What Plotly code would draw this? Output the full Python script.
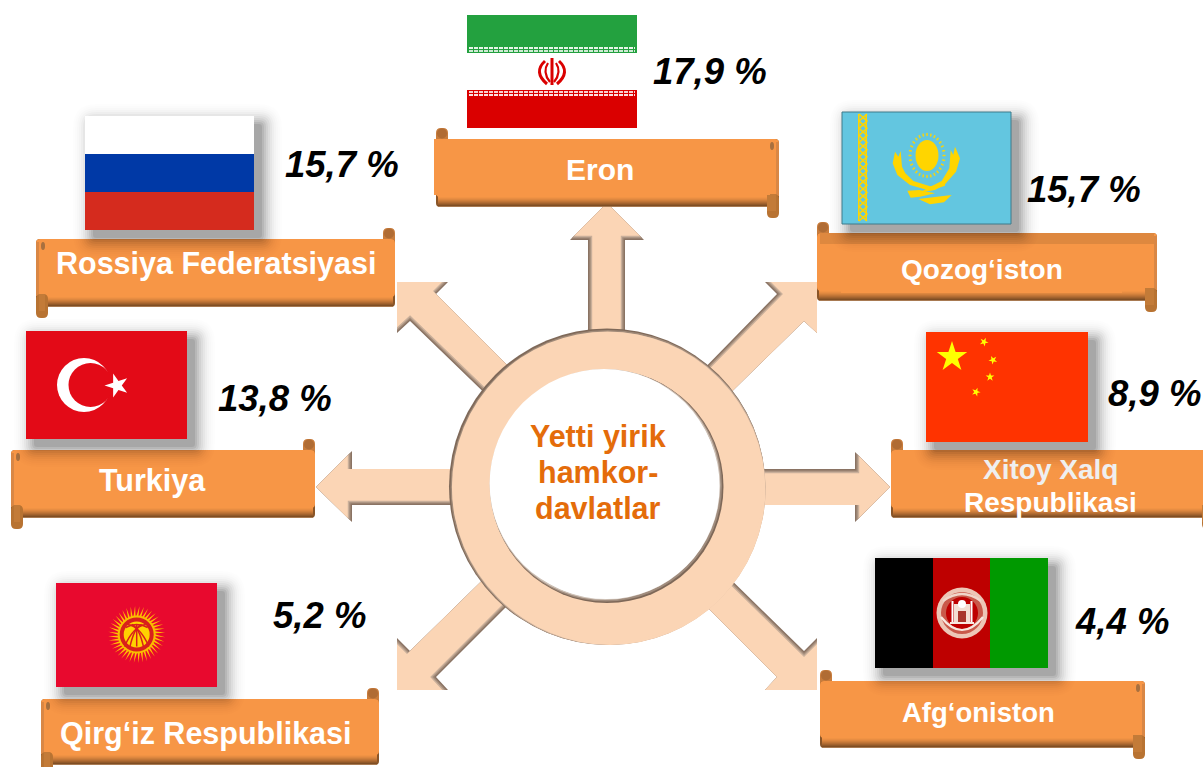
import math
import plotly.graph_objects as go

# ---- content ----
countries = ["Eron", "Rossiya Federatsiyasi", "Qozog‘iston", "Turkiya",
             ["Xitoy Xalq", "Respublikasi"], "Qirg‘iz Respublikasi", "Afg‘oniston"]
shares = [17.9, 15.7, 15.7, 13.8, 8.9, 5.2, 4.4]
centre_lines = ["Yetti yirik", "hamkor-", "davlatlar"]

# ---- layout of the diagram (pixel positions) ----
W, H = 1203, 767
share_pos = [(710, 71), (342, 164), (1084, 189), (275, 398), (1154, 393), (319, 615), (1122, 621)]
name_pos = [(600, 169), (216, 263), (982, 269), (152, 480), None, (206, 733), (978, 712)]
name_size = [30, 30.5, 28, 30.5, 28, 30.5, 27.5]
ORANGE = "#F79646"
PEACH = "#FBD5B5"
shapes = []


def add(kind, **kw):
    shapes.append(dict(type=kind, xref="x", yref="y", layer="above", **kw))


def poly(pts, fill, line=None, width=0):
    d = "M " + " L ".join(f"{x:.2f},{y:.2f}" for x, y in pts) + " Z"
    add("path", path=d, fillcolor=fill, line=dict(color=line or "rgba(0,0,0,0)", width=width))


def curve(d, color, width, fill="rgba(0,0,0,0)"):
    add("path", path=d, fillcolor=fill, line=dict(color=color, width=width))


def rect(x0, y0, x1, y1, fill):
    add("rect", x0=x0, y0=y0, x1=x1, y1=y1, fillcolor=fill, line=dict(width=0))


def rrect(x0, y0, x1, y1, r, fill):
    d = (f"M {x0+r},{y0} L {x1-r},{y0} Q {x1},{y0} {x1},{y0+r} L {x1},{y1-r} Q {x1},{y1} {x1-r},{y1} "
         f"L {x0+r},{y1} Q {x0},{y1} {x0},{y1-r} L {x0},{y0+r} Q {x0},{y0} {x0+r},{y0} Z")
    add("path", path=d, fillcolor=fill, line=dict(width=0))


def ell(cx, cy, rx, ry, fill, line=None, width=0):
    add("circle", x0=cx-rx, x1=cx+rx, y0=cy-ry, y1=cy+ry, fillcolor=fill,
        line=dict(color=line or "rgba(0,0,0,0)", width=width))


def star(cx, cy, r, fill, rot=0.0, inner=0.382):
    pts = []
    for i in range(10):
        a = math.radians(-90 + rot + 36 * i)
        q = r if i % 2 == 0 else r * inner
        pts.append((cx + q * math.cos(a), cy + q * math.sin(a)))
    poly(pts, fill)


def mix(a, b, t):
    ca = [int(a[i:i+2], 16) for i in (1, 3, 5)]
    cb = [int(b[i:i+2], 16) for i in (1, 3, 5)]
    return "#" + "".join(f"{round(p+(q-p)*t):02x}" for p, q in zip(ca, cb))


# ---- arrows: outline insets give the soft edge on the shaded sides ----
def inset(pts, tip_dir, shade, amount):
    n = len(pts)
    area = sum(pts[i][0]*pts[(i+1) % n][1] - pts[(i+1) % n][0]*pts[i][1] for i in range(n))
    lines = []
    for i in range(n):
        (x0, y0), (x1, y1) = pts[i], pts[(i+1) % n]
        L = math.hypot(x1-x0, y1-y0)
        dx, dy = (x1-x0)/L, (y1-y0)/L
        nx, ny = (dy, -dx) if area > 0 else (-dy, dx)
        back = nx*tip_dir[0] + ny*tip_dir[1] <= 0.01
        lit = shade is None or nx*shade[0] + ny*shade[1] >= -0.01
        off = amount if back and lit else 0
        lines.append((x0-nx*off, y0-ny*off, dx, dy))
    out = []
    for i in range(n):
        x1, y1, d1x, d1y = lines[i-1]
        x2, y2, d2x, d2y = lines[i]
        det = d1x*d2y - d1y*d2x
        if abs(det) < 1e-6:
            out.append((x2, y2))
        else:
            t = ((x2-x1)*d2y - (y2-y1)*d2x)/det
            out.append((x1+t*d1x, y1+t*d1y))
    return out


arrows = [
    ([(588, 345), (588, 240), (570, 240), (607, 203), (644, 240), (625, 240), (625, 345)], (0, -1), None),
    ([(465, 469), (352, 469), (352, 451), (316, 487), (352, 522), (352, 505), (465, 505)], (-1, 0), (0, 1)),
    ([(750, 469), (855, 469), (855, 452), (890, 487), (855, 522), (855, 505), (750, 505)], (1, 0), (0, -1)),
    ([(397, 282), (448, 282), (436, 294), (525, 383), (500, 408), (410, 321), (397, 333)], (-1, -1), (-1, 1)),
    ([(817, 282), (817, 333), (804, 321), (713, 410), (689, 384), (777, 294), (765, 282)], (1, -1), (-1, -1)),
    ([(397, 690), (448, 690), (436, 677), (525, 588), (500, 563), (410, 651), (397, 638)], (-1, 1), (1, 1)),
    ([(817, 690), (765, 690), (777, 677), (688, 588), (713, 562), (804, 651), (817, 638)], (1, 1), (1, -1)),
]
for pts, d, s in arrows:
    poly(pts, "#8A7363")
    poly(inset(pts, d, s, 1.4), "#A58E7C")
    poly(inset(pts, d, s, 2.8), "#C9AF9A")
    poly(inset(pts, d, s, 4.2), PEACH)

# ---- ring ----
CX, CY = 607, 486.5
ell(CX, CY, 158, 158, "#7F6959")
ell(CX+1, CY+1, 157.4, 157.4, "#A08A78")
ell(CX+2, CY+2, 156.6, 156.6, "#CDB29D")
ell(CX+3, CY+3, 155.4, 155.4, PEACH)
ell(CX+0.5, CY+0.5, 155.6, 155.6, PEACH)
ell(CX, CY, 116.5, 116.5, "#7E6858")
ell(CX-1, CY-1, 116, 116, "#A08C7D")
ell(CX-2, CY-2, 115.4, 115.4, "#CFC2B7")
ell(CX-3, CY-3, 114.4, 114.4, "#FFFFFF")
ell(CX-0.4, CY-0.4, 113, 113, "#FFFFFF")


# ---- banners ----
def banner(x0, x1, y0, y1, curl, box=None, under=None):
    cx0, tx0 = (x0, x1-12) if curl == "l" else (x1-12, x0)
    rrect(cx0, y0-11, cx0+12, y0+10, 5, "#C87C3C")
    ell(cx0+6, y0-5.5, 5, 5, "#B06C34")
    rrect(x0, y0, x1, y1, 4, "#8A5527")
    rrect(x0, y0, x1, y1-10, 4, ORANGE)
    for i in range(11):
        yy = y1-11+i
        col = mix(ORANGE, "#7F4E24", (i/9)**1.4 if i < 10 else 1)
        if i == 10:
            col = "#A87A52"
        rect(x0+2, yy, x1-2, yy+1, col)
    edge = x1-3 if curl == "l" else x0
    rect(edge, y0+3, edge+3, y1-11, "#D98745")
    rrect(tx0, y1-13, tx0+12, y1+11, 5, "#B87332")
    rect(tx0+3 if curl == "r" else tx0, y1-13, tx0+9, y1+4, "#C37B38")
    if curl == "l":
        ell(x1-7, y0+7, 2, 4, "#A8703F")
    else:
        ell(x0+7, y0+7, 2, 4, "#A8703F")
    if under:
        rect(x0+3, y0, x1-3, y0+11, under)
    if box:
        rect(*box, ORANGE)


banner(436, 779, 139, 207, "l", box=(434, 139, 770, 195))
banner(36, 395, 239, 307, "r")
banner(817, 1157, 233, 301, "l", under="#DE883F", box=(841, 244, 1122, 293))
banner(11, 315, 450, 518, "r")
banner(891, 1214, 450, 518, "l")
banner(41, 379, 699, 765, "r")
banner(820, 1145, 681, 748, "l")


# ---- flags ----
def shadow(x0, y0, x1, y1):
    maxe = 20
    for e in range(maxe, -2, -2):
        t = (maxe - e) / maxe
        alpha = 0.006 + 0.075 * t ** 1.6
        rrect(x0+8-e, y0+8-e, x1+8+e, y1+8+e, max(e, 0)+3, f"rgba(0,0,0,{alpha:.3f})")


# Iran (no shadow)
rect(467, 15, 637, 53, "#23A13F")
rect(467, 53, 637, 90, "#FFFFFF")
rect(467, 90, 637, 128, "#DA0000")
for yy, col in [(48, "#E6F4E8"), (51, "#CFEAD4"), (92, "#F8D0D0"), (95, "#FBE2E2")]:
    add("line", x0=469, x1=635, y0=yy, y1=yy, line=dict(color=col, width=2, dash="4px,1px"))
IR, IY = 552, 72
curve(f"M {IR},{IY-14} L {IR},{IY+13}", "#DA0000", 3)
curve(f"M {IR-7},{IY-11} Q {IR-19},{IY} {IR-5},{IY+12}", "#DA0000", 3)
curve(f"M {IR+7},{IY-11} Q {IR+19},{IY} {IR+5},{IY+12}", "#DA0000", 3)
curve(f"M {IR-4},{IY-9} Q {IR-10},{IY} {IR-2},{IY+10}", "#DA0000", 2.2)
curve(f"M {IR+4},{IY-9} Q {IR+10},{IY} {IR+2},{IY+10}", "#DA0000", 2.2)

# Russia
shadow(85, 116, 254, 230)
rect(85, 116, 254, 154, "#FFFFFF")
rect(85, 154, 254, 192, "#0039A6")
rect(85, 192, 254, 230, "#D52B1E")

# Kazakhstan
shadow(842, 112, 1011, 224)
add("rect", x0=842, y0=112, x1=1011, y1=224, fillcolor="#63C6E0", line=dict(color="#3F7A8A", width=1))
KY = "#FFD500"
rect(858, 114, 859.5, 221, KY)
rect(865.5, 114, 867, 221, KY)
zig = []
for k in range(0, 16):
    yy = 114 + k * 107 / 15
    zig.append((859 if k % 2 else 867, yy))
curve("M " + " L ".join(f"{x},{y:.1f}" for x, y in zig), KY, 1.6)
zig = []
for k in range(0, 16):
    yy = 114 + k * 107 / 15
    zig.append((867 if k % 2 else 859, yy))
curve("M " + " L ".join(f"{x},{y:.1f}" for x, y in zig), KY, 1.6)
KX0, KY0 = 880, 125
ell(927, 155.5, 11.5, 15.5, KY)
for k in range(28):
    a = 2 * math.pi * k / 28
    add("line", x0=927+15.5*math.cos(a), y0=155.5+19.5*math.sin(a),
        x1=927+18.5*math.cos(a), y1=155.5+22.5*math.sin(a), line=dict(color=KY, width=1.4))
kz = lambda P: [(KX0+x/3, KY0+y/3) for x, y in P]
poly(kz([(45, 80), (38, 115), (52, 150), (90, 180), (150, 197), (195, 182), (195, 176), (150, 184), (100, 168), (76, 145), (66, 125), (62, 78), (55, 95)]), KY)
poly(kz([(225, 65), (240, 100), (228, 140), (195, 178), (165, 195), (120, 202), (150, 186), (185, 168), (208, 130), (212, 75), (220, 90)]), KY)
poly(kz([(82, 197), (118, 195), (165, 205), (120, 215), (92, 218)]), KY)
poly(kz([(115, 222), (215, 210), (192, 232), (150, 238)]), KY)

# Turkey
shadow(26, 331, 187, 439)
TR = "#E30A17"
rect(26, 331, 187, 439, TR)
ell(84, 385, 27, 27, "#FFFFFF")
ell(90.5, 385, 22, 22, TR)
star(117, 385.5, 12.5, "#FFFFFF", rot=-90)

# China
shadow(926, 332, 1088, 442)
rect(926, 332, 1088, 442, "#FF3300")
star(952, 357, 16, "#FFFF00")
for sx, sy, rot in [(984, 342, 25), (993, 360, 45), (990, 377, 0), (976, 392, 20)]:
    star(sx, sy, 4.6, "#FFFF00", rot=rot)

# Kyrgyzstan
shadow(56, 583, 217, 687)
KG = "#E8092E"
rect(56, 583, 217, 687, KG)
KSX, KSY = 136.7, 634.5
for k in range(40):
    a = 2 * math.pi * k / 40
    b = 0.09
    poly([(KSX+15*math.cos(a-b), KSY+15*math.sin(a-b)),
          (KSX+28.5*math.cos(a+0.1), KSY+28.5*math.sin(a+0.1)),
          (KSX+15*math.cos(a+b), KSY+15*math.sin(a+b))], "#FFC000")
ell(KSX, KSY, 19, 19, "#F8BE00")
ell(KSX, KSY, 17, 17, "#D9201C")
ell(KSX, KSY, 13, 13, "#FFD200")
for off in (-9, -5, 0, 5, 9):
    curve(f"M {KSX-off},{KSY-10} Q {KSX+off*0.4},{KSY-8} {KSX+off*1.35},{KSY+12}", "#D9201C", 1.5)
curve(f"M {KSX-11},{KSY-7} Q {KSX},{KSY-13} {KSX+11},{KSY-7}", "#D9201C", 1.5)

# Afghanistan
shadow(875, 558, 1048, 668)
rect(875, 558, 933, 668, "#000000")
rect(933, 558, 990, 668, "#BE0000")
rect(990, 558, 1048, 668, "#009900")
AX, AY = 962, 613
ell(AX, AY, 25.5, 25.5, "#EDC6B6")
ell(AX, AY, 21, 21, "#C9594A")
ell(AX, AY, 16, 16, "#BE0000")
rect(AX-8, AY-9, AX+8, AY+9, "#F3DDD2")
rect(AX-4, AY-2, AX+4, AY+9, "#A9352B")
ell(AX, AY-9, 4, 4, "#FFFFFF")
rect(AX-10.5, AY-12, AX-8.5, AY+9, "#FFFFFF")
rect(AX+8.5, AY-12, AX+10.5, AY+9, "#FFFFFF")
rect(AX-12, AY+9, AX+12, AY+11, "#F8E8E0")
curve(f"M {AX-21},{AY+4} Q {AX},{AY+30} {AX+21},{AY+4}", "#F8E8E0", 2.2)
curve(f"M {AX-19},{AY-12} Q {AX},{AY-26} {AX+19},{AY-12}", "#F0D6CA", 2.2)

# ---- text ----
FONT = "Liberation Sans, Arial, sans-serif"
anns = []


def txt(x, y, s, size, color):
    anns.append(dict(x=x, y=y, xref="x", yref="y", text=f"<b>{s}</b>", showarrow=False,
                     xanchor="center", yanchor="middle", font=dict(family=FONT, size=size, color=color)))


for (x, y), v in zip(share_pos, shares):
    anns.append(dict(x=x, y=y, xref="x", yref="y", text=f"<b><i>{str(v).replace('.', ',')} %</i></b>",
                     showarrow=False, xanchor="center", yanchor="middle",
                     font=dict(family=FONT, size=36.5, color="#000000")))
for pos, name, size in zip(name_pos, countries, name_size):
    if pos is not None:
        txt(pos[0], pos[1], name, size, "#FFFFFF")
txt(1050, 469, countries[4][0], 28, "#EFEFEF")
txt(1050, 502, countries[4][1], 28, "#FFFFFF")
for y, s in zip((436, 472, 508), centre_lines):
    txt(598, y, s, 30.5, "#E46C0A")

fig = go.Figure()
fig.update_layout(
    width=W, height=H, margin=dict(l=0, r=0, t=0, b=0),
    paper_bgcolor="#FFFFFF", plot_bgcolor="#FFFFFF", showlegend=False,
    xaxis=dict(range=[0, W], visible=False, fixedrange=True),
    yaxis=dict(range=[H, 0], visible=False, fixedrange=True),
    shapes=shapes, annotations=anns,
)
fig.write_html("out.html", config=dict(displayModeBar=False),
               post_script="document.body.style.margin='0';document.body.style.overflow='hidden';")
